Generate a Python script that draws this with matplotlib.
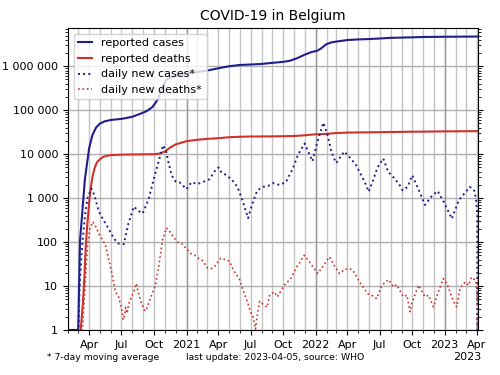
import matplotlib
matplotlib.use("Agg")
import matplotlib.pyplot as plt
import matplotlib.dates as mdates
from matplotlib.ticker import FuncFormatter, NullFormatter
import pandas as pd

# cumulative reported cases
cases_dates = [
    "2020-02-04", "2020-03-01", "2020-03-03", "2020-03-06", "2020-03-10",
    "2020-03-15", "2020-03-20", "2020-03-25", "2020-04-01", "2020-04-10",
    "2020-04-20", "2020-05-01", "2020-05-15", "2020-06-01", "2020-07-01",
    "2020-08-01", "2020-08-20", "2020-09-10", "2020-09-25", "2020-10-05",
    "2020-10-15", "2020-10-25", "2020-11-05", "2020-11-15", "2020-12-01",
    "2021-01-01", "2021-02-01", "2021-03-01", "2021-04-01", "2021-05-01",
    "2021-06-01", "2021-07-01", "2021-08-01", "2021-09-01", "2021-10-01",
    "2021-10-20", "2021-11-10", "2021-12-01", "2021-12-20", "2022-01-05",
    "2022-01-15", "2022-02-01", "2022-02-15", "2022-03-01", "2022-04-01",
    "2022-05-01", "2022-06-01", "2022-07-01", "2022-08-01", "2022-09-01",
    "2022-10-01", "2022-11-01", "2022-12-01", "2023-01-01", "2023-02-01",
    "2023-03-01", "2023-04-05",
]
cases_total = [
    1, 1, 8, 110, 270,
    890, 2800, 5500, 14000, 27000,
    40000, 49500, 56000, 60000, 63500,
    71000, 81000, 95000, 115000, 145000,
    195000, 330000, 490000, 550000, 600000,
    680000, 740000, 800000, 900000, 1000000,
    1070000, 1095000, 1130000, 1195000, 1260000,
    1330000, 1530000, 1830000, 2100000, 2250000,
    2500000, 3200000, 3500000, 3650000, 3950000,
    4080000, 4160000, 4280000, 4430000, 4490000,
    4550000, 4630000, 4660000, 4690000, 4710000,
    4725000, 4740000,
]

# cumulative reported deaths
deaths_dates = [
    "2020-03-08", "2020-03-14", "2020-03-18", "2020-03-22", "2020-03-26",
    "2020-04-01", "2020-04-05", "2020-04-10", "2020-04-15", "2020-04-20",
    "2020-04-25", "2020-05-01", "2020-05-10", "2020-05-20", "2020-06-01",
    "2020-07-01", "2020-08-01", "2020-09-01", "2020-10-01", "2020-10-15",
    "2020-11-01", "2020-11-15", "2020-12-01", "2021-01-01", "2021-02-01",
    "2021-03-01", "2021-04-01", "2021-05-01", "2021-06-01", "2021-07-01",
    "2021-09-01", "2021-10-01", "2021-11-01", "2021-12-01", "2022-01-01",
    "2022-02-01", "2022-03-01", "2022-04-01", "2022-07-01", "2022-10-01",
    "2023-01-01", "2023-04-05",
]
deaths_total = [
    1, 4, 14, 75, 220,
    830, 1630, 3000, 4440, 5830,
    6900, 7600, 8650, 9200, 9500,
    9750, 9850, 9900, 10000, 10250,
    11500, 14000, 16600, 19800, 21300,
    22300, 23100, 24300, 24900, 25200,
    25400, 25600, 25900, 26900, 28300,
    29000, 30300, 31000, 31700, 32400,
    33000, 33400,
]

# daily new cases, 7-day moving average
new_cases_dates = [
    "2020-02-29", "2020-03-05", "2020-03-10", "2020-03-15", "2020-03-20",
    "2020-03-27", "2020-04-07", "2020-04-15", "2020-04-28", "2020-05-10",
    "2020-05-26", "2020-06-10", "2020-06-23", "2020-07-08", "2020-07-20",
    "2020-08-05", "2020-08-20", "2020-08-30", "2020-09-15", "2020-09-30",
    "2020-10-12", "2020-10-27", "2020-11-05", "2020-11-10", "2020-11-20",
    "2020-12-01", "2020-12-12", "2021-01-01", "2021-01-15", "2021-02-01",
    "2021-02-15", "2021-03-07", "2021-03-25", "2021-04-02", "2021-04-10",
    "2021-04-19", "2021-05-08", "2021-05-25", "2021-06-08", "2021-06-24",
    "2021-07-05", "2021-07-20", "2021-08-05", "2021-08-20", "2021-09-03",
    "2021-09-20", "2021-10-09", "2021-10-29", "2021-11-12", "2021-12-01",
    "2021-12-10", "2021-12-23", "2022-01-05", "2022-01-23", "2022-02-05",
    "2022-02-15", "2022-02-28", "2022-03-23", "2022-04-10", "2022-04-25",
    "2022-05-19", "2022-05-31", "2022-06-12", "2022-06-25", "2022-07-11",
    "2022-07-25", "2022-08-14", "2022-08-28", "2022-09-04", "2022-09-18",
    "2022-10-01", "2022-10-20", "2022-11-06", "2022-11-25", "2022-12-12",
    "2022-12-30", "2023-01-21", "2023-02-10", "2023-03-13", "2023-03-25",
    "2023-03-30", "2023-04-03", "2023-04-05",
]
new_cases = [
    0.3, 10, 50, 150, 400,
    1000, 1650, 1200, 500, 330,
    200, 120, 92, 90, 250,
    640, 500, 450, 900, 2600,
    6000, 16000, 11000, 7000, 3300,
    2400, 2300, 1600, 2300, 2100,
    2300, 2700, 4500, 5000, 3800,
    3500, 2700, 1800, 900, 350,
    700, 1500, 1800, 1900, 2200,
    2000, 2300, 4800, 9700, 17500,
    12000, 6900, 18000, 52000, 25000,
    11000, 6300, 11500, 8000, 5700,
    2400, 1400, 2500, 5000, 8000,
    4000, 2700, 1900, 1500, 1800,
    3300, 1500, 700, 1100, 1450,
    800, 340, 900, 1800, 1500,
    1000, 400, 0,
]

# daily new deaths, 7-day moving average
new_deaths_dates = [
    "2020-03-08", "2020-03-14", "2020-03-20", "2020-03-27", "2020-04-03",
    "2020-04-11", "2020-04-20", "2020-05-01", "2020-05-17", "2020-05-28",
    "2020-06-07", "2020-06-14", "2020-06-23", "2020-07-03", "2020-07-06",
    "2020-07-10", "2020-07-13", "2020-07-17", "2020-07-22", "2020-08-06",
    "2020-08-12", "2020-08-18", "2020-08-26", "2020-09-05", "2020-09-10",
    "2020-09-20", "2020-10-05", "2020-10-15", "2020-10-25", "2020-11-05",
    "2020-11-12", "2020-11-22", "2020-12-07", "2020-12-20", "2021-01-01",
    "2021-01-13", "2021-01-25", "2021-02-05", "2021-02-15", "2021-03-01",
    "2021-03-12", "2021-03-20", "2021-04-08", "2021-04-20", "2021-05-02",
    "2021-05-15", "2021-05-30", "2021-06-10", "2021-06-22", "2021-07-02",
    "2021-07-08", "2021-07-15", "2021-07-22", "2021-07-27", "2021-08-03",
    "2021-08-10", "2021-08-17", "2021-08-23", "2021-09-06", "2021-09-15",
    "2021-10-04", "2021-10-23", "2021-11-06", "2021-11-30", "2021-12-15",
    "2022-01-07", "2022-01-21", "2022-02-09", "2022-02-22", "2022-03-09",
    "2022-03-25", "2022-04-06", "2022-04-16", "2022-05-05", "2022-05-28",
    "2022-06-08", "2022-06-23", "2022-07-07", "2022-07-26", "2022-08-09",
    "2022-08-18", "2022-09-06", "2022-09-16", "2022-09-25", "2022-09-30",
    "2022-10-19", "2022-11-06", "2022-11-16", "2022-11-30", "2022-12-14",
    "2022-12-28", "2023-01-07", "2023-01-26", "2023-02-04", "2023-02-13",
    "2023-02-28", "2023-03-09", "2023-03-18", "2023-03-30", "2023-04-03",
    "2023-04-05",
]
new_deaths = [
    0.3, 1.5, 10, 80, 200,
    290, 220, 140, 85, 35,
    15, 7.4, 5.7, 2.6, 1.7,
    2.2, 3.3, 2.4, 4, 8,
    11.4, 7, 4.2, 2.7, 3.0,
    5, 10.4, 30, 110, 210,
    190, 140, 100, 90, 70,
    55, 50, 42, 38, 26,
    25, 27, 43, 40, 37,
    22, 14.8, 8, 4.4, 2.5,
    2.0, 1.05, 2.8, 4.5, 4.0,
    3.6, 3.3, 6.0, 7.4, 5.7,
    10.4, 14.8, 25, 50, 35,
    19.3, 27.5, 46, 30, 19.3,
    24, 25, 23, 12.4, 6.7,
    6.2, 5.2, 10.4, 14, 9.6,
    10.8, 5.7, 6.2, 2.6, 4,
    10.4, 5.7, 6.2, 3.35, 7.4,
    14.8, 11.4, 4.4, 3.35, 8.8,
    12.4, 10.4, 15.9, 13.3, 5,
    0,
]

year_starts = ["2021-01-01", "2022-01-01", "2023-01-01"]

BLUE = "#1f1f8c"
RED = "#d0312d"

fig = plt.figure(figsize=(5, 3.75), dpi=100)
ax = fig.add_axes([0.136, 0.12, 0.82, 0.8045])

ax.plot(pd.to_datetime(cases_dates), cases_total, color=BLUE, lw=1.5,
        label="reported cases")
ax.plot(pd.to_datetime(deaths_dates), deaths_total, color=RED, lw=1.5,
        label="reported deaths")
ax.plot(pd.to_datetime(new_cases_dates), new_cases, color=BLUE, lw=1.4,
        ls=":", label="daily new cases*")
ax.plot(pd.to_datetime(new_deaths_dates), new_deaths, color=RED, lw=1.2,
        ls=":", label="daily new deaths*")

ax.set_yscale("log", nonpositive="clip")
ax.set_ylim(1, 7.3e6)
ax.set_xlim(pd.Timestamp("2020-02-01"), pd.Timestamp("2023-04-05"))

ax.yaxis.set_major_formatter(
    FuncFormatter(lambda v, _: f"{int(round(v)):,}".replace(",", " ")))
ax.yaxis.set_minor_formatter(NullFormatter())


def month_label(v, _):
    d = mdates.num2date(v)
    return d.strftime("%Y") if d.month == 1 else d.strftime("%b")


ax.xaxis.set_major_locator(mdates.MonthLocator(bymonth=[1, 4, 7, 10]))
ax.xaxis.set_major_formatter(FuncFormatter(month_label))
ax.xaxis.set_minor_locator(mdates.MonthLocator())

ax.set_axisbelow(True)
ax.grid(True, which="both", axis="x", color="#c4c4c4", lw=1.0)
ax.grid(True, which="major", axis="y", color="#b0b0b0", lw=1.0)
for y in year_starts:
    ax.axvline(pd.Timestamp(y), color="#9a9a9a", lw=1.0, zorder=0.6)

ax.tick_params(labelsize=8)
ax.tick_params(axis="y", which="both", right=True)

ax.set_title("COVID-19 in Belgium", fontsize=10)
ax.legend(loc="upper left", fontsize=8, handlelength=1.3)

fig.text(47 / 500, 1 - 358 / 375, "* 7-day moving average", fontsize=6.7,
         va="center")
fig.text(186 / 500, 1 - 358 / 375, "last update: 2023-04-05, source: WHO",
         fontsize=6.7, va="center")
fig.text(481 / 500, 1 - 357 / 375, "2023", fontsize=8, ha="right",
         va="center")

fig.savefig("out.png", dpi=100)
